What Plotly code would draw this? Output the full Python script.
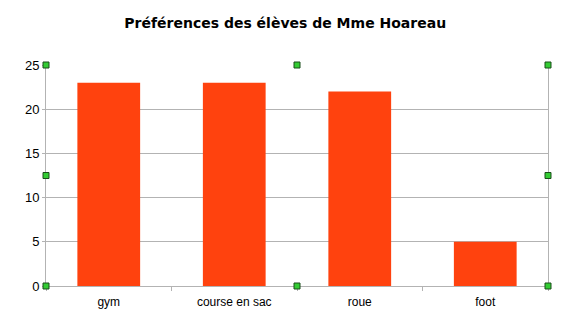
import plotly.graph_objects as go

categories = ["gym", "course en sac", "roue", "foot"]
values = [23, 23, 22, 5]
y_ticks = [0, 5, 10, 15, 20, 25]

fig = go.Figure(go.Bar(x=categories, y=values, marker=dict(color="#FF420E", line=dict(width=0))))

grid = "#b3b3b3"
fig.update_layout(
    width=567, height=330,
    margin=dict(l=46, r=19, t=65, b=44),
    paper_bgcolor="white", plot_bgcolor="white",
    bargap=0.5,
    showlegend=False,
    title=dict(text="<b>Préférences des élèves de Mme Hoareau</b>", x=0.503, xanchor="center",
               y=0.93, yanchor="middle",
               font=dict(family="DejaVu Sans", size=14, color="black")),
    font=dict(family="Liberation Sans, Arial", size=12, color="black"),
)
fig.update_xaxes(type="category", showline=True, linecolor=grid, linewidth=1,
                 ticks="outside", tickson="boundaries", ticklen=4, tickcolor=grid,
                 showgrid=False, tickfont=dict(size=12), ticklabelstandoff=5)
fig.update_yaxes(range=[0, 25], tickvals=y_ticks, showline=True, linecolor=grid, linewidth=1,
                 mirror=True, ticks="outside", ticklen=3, tickcolor=grid,
                 showgrid=True, gridcolor=grid, gridwidth=1, zeroline=False,
                 tickfont=dict(size=13))

# selection handles (decorative)
s = 3
for (px, py) in [(0, 0), (0.5, 0), (1, 0), (0, 0.5), (1, 0.5), (0, 1), (0.5, 1), (1, 1)]:
    fig.add_shape(type="rect", xref="paper", yref="paper", xsizemode="pixel", ysizemode="pixel",
                  xanchor=px, yanchor=py, x0=-s, x1=s, y0=-s, y1=s,
                  fillcolor="#33cc33", line=dict(color="#1a4d1a", width=1), layer="above")

fig.write_html("out.html")
